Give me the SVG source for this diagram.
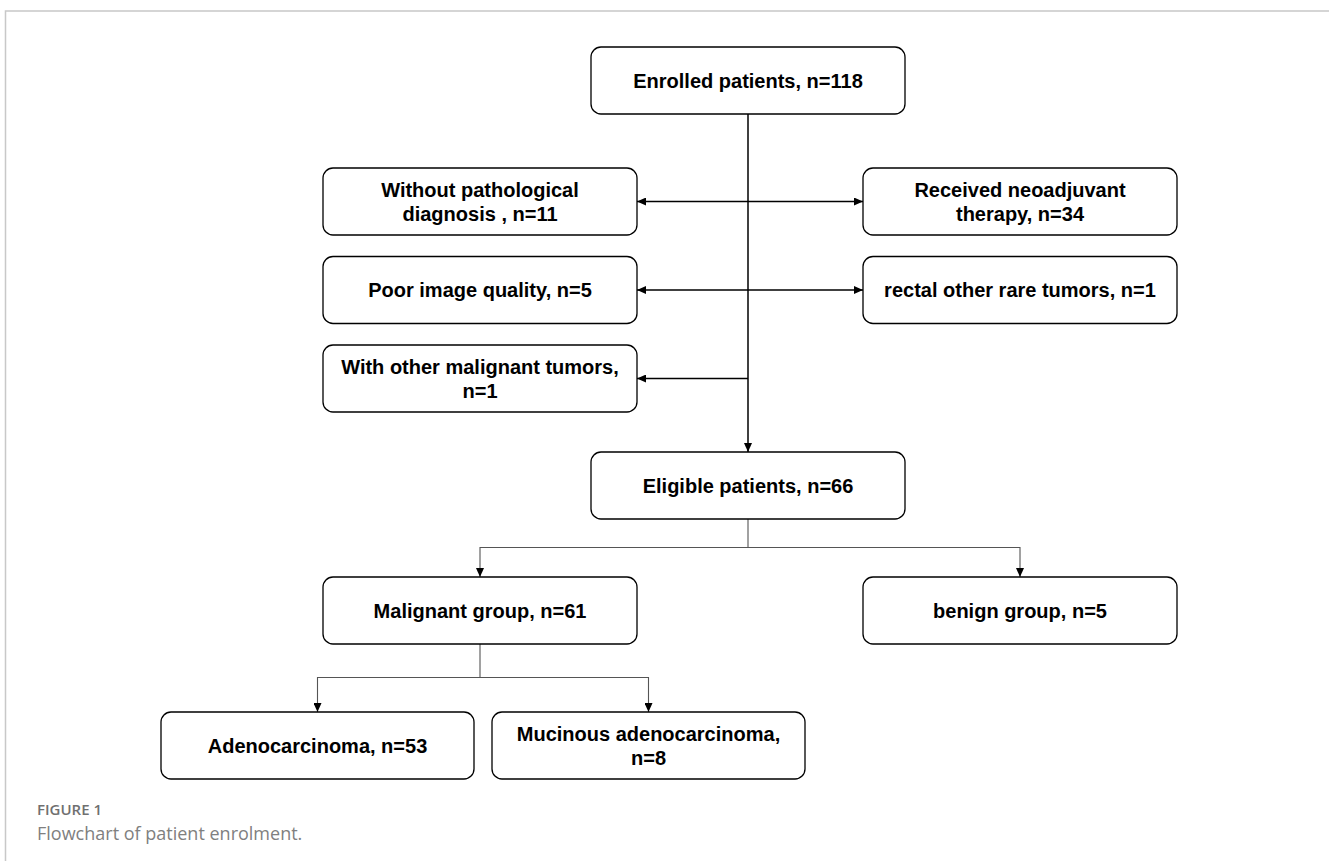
<svg xmlns="http://www.w3.org/2000/svg" width="1329" height="861" viewBox="0 0 1329 861">
  <style>
    .box { fill: #ffffff; stroke: #000000; stroke-width: 1.3; }
    .t { font-family: "Liberation Sans", Arial, sans-serif; font-weight: bold; font-size: 20px; fill: #000000; text-anchor: middle; }
    .main { stroke: #000000; stroke-width: 1.5; fill: none; }
    .branch { stroke: #555555; stroke-width: 1.1; fill: none; }
    .cap1 { font-family: "Open Sans", "Liberation Sans", sans-serif; font-weight: 600; font-size: 15px; fill: #707070; }
    .cap2 { font-family: "Open Sans", "Liberation Sans", sans-serif; font-size: 18px; fill: #808080; }
  </style>
  <defs>
    <marker id="arr" viewBox="0 0 9 8" refX="9" refY="4" markerWidth="9" markerHeight="8" markerUnits="userSpaceOnUse" orient="auto-start-reverse">
      <path d="M0,0 L9,4 L0,8 z" fill="#000000"/>
    </marker>
  </defs>
  <rect width="1329" height="861" fill="#ffffff"/>
  <g id="frame">
    <path d="M5.5,861 L5.5,11 L1329,11" fill="none" stroke="#c8c8c8" stroke-width="1.5"/>
  </g>

  <g id="connectors">
    <line class="main" x1="748" y1="114" x2="748" y2="452" marker-end="url(#arr)"/>
    <line class="main" x1="637" y1="201.5" x2="863" y2="201.5" marker-start="url(#arr)" marker-end="url(#arr)"/>
    <line class="main" x1="637" y1="290" x2="863" y2="290" marker-start="url(#arr)" marker-end="url(#arr)"/>
    <line class="main" x1="748" y1="378.5" x2="637" y2="378.5" marker-end="url(#arr)"/>
    <polyline class="branch" points="748,519 748,547.5 480,547.5 480,577" marker-end="url(#arr)"/>
    <polyline class="branch" points="748,547.5 1020,547.5 1020,577" marker-end="url(#arr)"/>
    <polyline class="branch" points="480,644 480,677.5 317.5,677.5 317.5,712" marker-end="url(#arr)"/>
    <polyline class="branch" points="480,677.5 648.5,677.5 648.5,712" marker-end="url(#arr)"/>
  </g>

  <g id="enrolled">
    <rect class="box" x="591" y="47" width="314" height="67" rx="10"/>
    <text class="t" x="748" y="87.5">Enrolled patients, n=118</text>
  </g>
  <g id="without-pathological">
    <rect class="box" x="323" y="168" width="314" height="67" rx="10"/>
    <text class="t" x="480" y="197">Without pathological</text>
    <text class="t" x="480" y="221">diagnosis , n=11</text>
  </g>
  <g id="received-neoadjuvant">
    <rect class="box" x="863" y="168" width="314" height="67" rx="10"/>
    <text class="t" x="1020" y="197">Received neoadjuvant</text>
    <text class="t" x="1020" y="221">therapy, n=34</text>
  </g>
  <g id="poor-image">
    <rect class="box" x="323" y="256.5" width="314" height="67" rx="10"/>
    <text class="t" x="480" y="297">Poor image quality, n=5</text>
  </g>
  <g id="rectal-rare">
    <rect class="box" x="863" y="256.5" width="314" height="67" rx="10"/>
    <text class="t" x="1020" y="297">rectal other rare tumors, n=1</text>
  </g>
  <g id="other-malignant">
    <rect class="box" x="323" y="345" width="314" height="67" rx="10"/>
    <text class="t" x="480" y="373.5">With other malignant tumors,</text>
    <text class="t" x="480" y="397.5">n=1</text>
  </g>
  <g id="eligible">
    <rect class="box" x="591" y="452" width="314" height="67" rx="10"/>
    <text class="t" x="748" y="492.5">Eligible patients, n=66</text>
  </g>
  <g id="malignant">
    <rect class="box" x="323" y="577" width="314" height="67" rx="10"/>
    <text class="t" x="480" y="617.5">Malignant group, n=61</text>
  </g>
  <g id="benign">
    <rect class="box" x="863" y="577" width="314" height="67" rx="10"/>
    <text class="t" x="1020" y="617.5">benign group, n=5</text>
  </g>
  <g id="adenocarcinoma">
    <rect class="box" x="161" y="712" width="313" height="67" rx="10"/>
    <text class="t" x="317.5" y="752.5">Adenocarcinoma, n=53</text>
  </g>
  <g id="mucinous">
    <rect class="box" x="492" y="712" width="313" height="67" rx="10"/>
    <text class="t" x="648.5" y="740.5">Mucinous adenocarcinoma,</text>
    <text class="t" x="648.5" y="764.5">n=8</text>
  </g>

  <g id="caption">
    <text class="cap1" x="37" y="815">FIGURE 1</text>
    <text class="cap2" x="37" y="839.5">Flowchart of patient enrolment.</text>
  </g>
</svg>
